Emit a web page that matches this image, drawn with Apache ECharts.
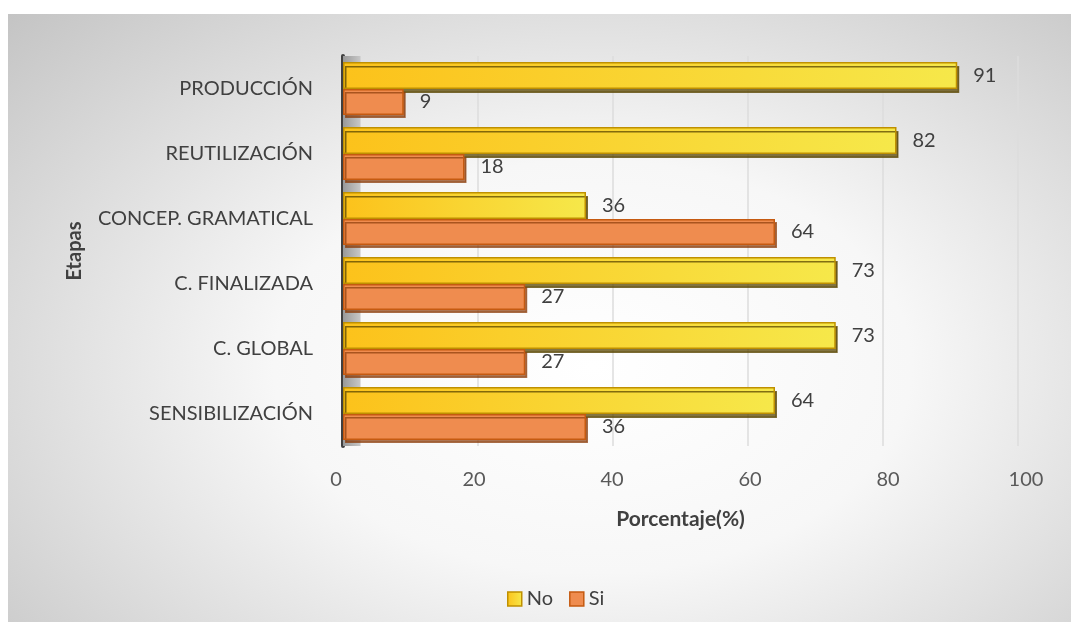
<!DOCTYPE html>
<html>
<head>
<meta charset="utf-8">
<script src="https://cdn.jsdelivr.net/npm/echarts@6/dist/echarts.min.js"></script>
<style>
  html, body { margin: 0; padding: 0; background: #fff; }
  #chart {
    position: absolute; left: 8px; top: 14px; width: 1063px; height: 608px;
    background: radial-gradient(ellipse 75% 85% at 55% 58%, #ffffff 0%, #f7f7f7 40%, #c4c4c4 100%);
  }
</style>
</head>
<body>
<div id="chart"></div>
<script>
// datos
const etapas = ["PRODUCCIÓN", "REUTILIZACIÓN", "CONCEP. GRAMATICAL", "C. FINALIZADA", "C. GLOBAL", "SENSIBILIZACIÓN"]
const valoresNo = [91, 82, 36, 73, 73, 64]
const valoresSi = [9, 18, 64, 27, 27, 36]
const ticksX = [0, 20, 40, 60, 80, 100]

const fuente = "Lato, 'Open Sans', sans-serif"
const chart = echarts.init(document.getElementById("chart"))

const etiqueta = {
  show: true,
  position: "right",
  distance: 16,
  fontFamily: fuente,
  fontSize: 20,
  color: "#404040"
}

chart.setOption({
  animation: false,
  textStyle: { fontFamily: fuente },
  grid: [
    { left: 335, right: 53, top: 42, bottom: 176 },
    // la escala de etiquetas del eje X es un poco mas ancha (perspectiva 3D)
    { left: 328, right: 45, top: 42, bottom: 176 }
  ],
  legend: {
    bottom: 8,
    left: 494,
    itemWidth: 14,
    itemHeight: 14,
    itemGap: 16,
    itemStyle: { borderWidth: 1.5 },
    textStyle: { fontSize: 20, color: "#404040", fontFamily: fuente },
    data: [
      { name: "No", icon: "rect" },
      { name: "Si", icon: "rect" }
    ]
  },
  xAxis: [
    {
      type: "value",
      gridIndex: 0,
      min: ticksX[0],
      max: ticksX[ticksX.length - 1],
      interval: 20,
      name: "Porcentaje(%)",
      nameLocation: "middle",
      nameGap: 63,
      nameTextStyle: { fontSize: 21, fontWeight: "bold", color: "#404040" },
      axisLine: { show: false },
      axisTick: { show: false },
      axisLabel: { show: false },
      splitLine: { lineStyle: { color: "#dcdcdc", width: 1.5 } }
    },
    {
      type: "value",
      gridIndex: 1,
      min: ticksX[0],
      max: ticksX[ticksX.length - 1],
      interval: 20,
      axisLine: { show: false },
      axisTick: { show: false },
      axisLabel: { fontSize: 20, color: "#595959", margin: 24 },
      splitLine: { show: false }
    }
  ],
  yAxis: [
    {
      type: "category",
      gridIndex: 0,
      inverse: true,
      data: etapas,
      offset: 8,
      name: "Etapas",
      nameLocation: "middle",
      nameGap: 250,
      nameRotate: 90,
      nameTextStyle: { fontSize: 20, fontWeight: "bold", color: "#404040" },
      axisLine: { show: true, lineStyle: { color: "#404040", width: 4 } },
      axisTick: { show: false },
      axisLabel: { fontSize: 20, color: "#404040", margin: 22 }
    },
    {
      type: "category",
      gridIndex: 1,
      show: false,
      data: etapas
    }
  ],
  series: [
    {
      name: "No",
      type: "bar",
      data: valoresNo,
      barWidth: 27,
      barGap: "0%",
      itemStyle: {
        color: new echarts.graphic.LinearGradient(0, 0, 1, 0, [
          { offset: 0, color: "#fcc21b" },
          { offset: 1, color: "#f6e84a" }
        ]),
        borderColor: "#bf9000",
        borderWidth: 1.5,
        shadowColor: "rgba(90, 70, 0, 0.75)",
        shadowOffsetX: 2,
        shadowOffsetY: 4
      },
      label: etiqueta,
      markArea: {
        silent: true,
        itemStyle: {
          color: new echarts.graphic.LinearGradient(0, 0, 1, 0, [
            { offset: 0, color: "#999999" },
            { offset: 1, color: "#c8c8c8" }
          ])
        },
        data: [[{ xAxis: 0 }, { xAxis: 2.6 }]]
      }
    },
    {
      name: "Si",
      type: "bar",
      data: valoresSi,
      barWidth: 26,
      itemStyle: {
        color: "#ef8c4f",
        borderColor: "#c55a11",
        borderWidth: 1.5,
        shadowColor: "rgba(140, 60, 10, 0.7)",
        shadowOffsetX: 2,
        shadowOffsetY: 3
      },
      label: etiqueta
    }
  ]
})
</script>
</body>
</html>
